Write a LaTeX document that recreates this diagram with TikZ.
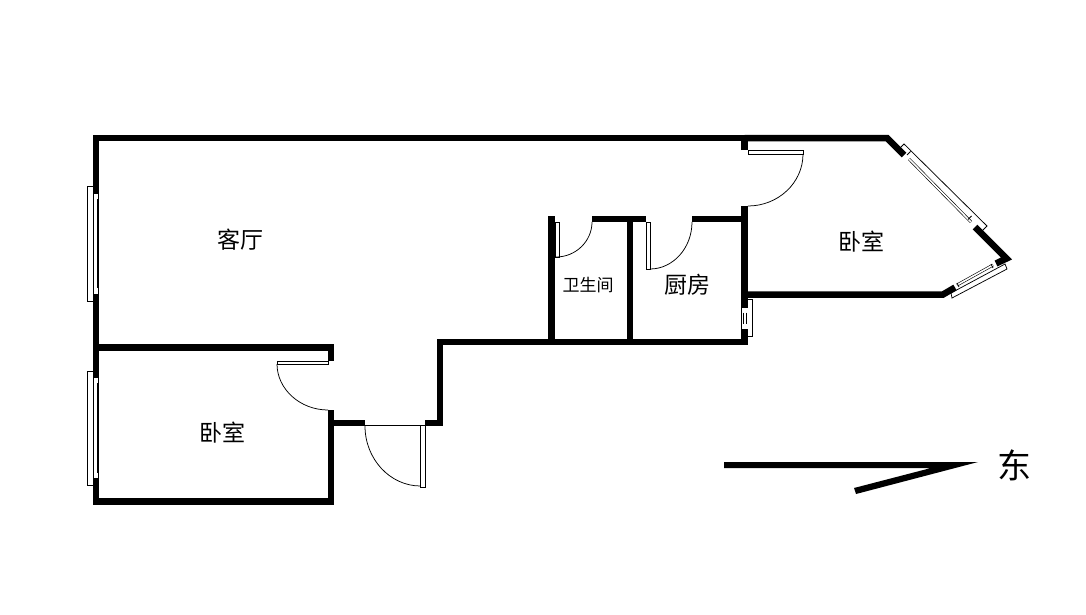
\documentclass[tikz,border=0pt]{standalone}
\usepackage{fontspec}
\newfontfamily\cjk{Noto Sans CJK SC}
\tikzset{
  wallline/.style={line width=6.5pt, miter limit=10},
  thinline/.style={line width=0.75pt},
  paneline/.style={line width=0.75pt, fill=white},
  glassline/.style={line width=0.6pt, double=white, double distance=1.6pt},
  roomlabel/.style={font=\cjk, text=black, inner sep=0pt}
}
\begin{document}
\begin{tikzpicture}[x=1pt, y=-1pt]
    \useasboundingbox (0,0) rectangle (1086,615);
    % walls
    \draw[wallline] (744.5,150) -- (744.5,138) -- (96,138) -- (96,501.5) -- (331,501.5) -- (331,410);
    \draw[wallline] (744.5,138) -- (887,138) -- (904,155);
    \draw[wallline] (96,347.5) -- (331,347.5) -- (331,361);
    \draw[wallline] (331,423) -- (365,423);
    \draw[wallline] (425,423) -- (440,423) -- (440,342) -- (744.5,342) -- (744.5,206);
    \draw[wallline] (744.5,294.5) -- (943,294.5) -- (955,287.5);
    \draw[wallline] (975,227) -- (1006.5,258.5) -- (996,263.5);
    \draw[wallline] (551.5,216) -- (551.5,342);
    \draw[wallline] (630,219) -- (630,342);
    \draw[wallline] (592,219) -- (646,219);
    \draw[wallline] (692,219) -- (744.5,219);
    % doors
    \draw[paneline] (748,150) rectangle (803,154);
    \draw[thinline] (803,154) .. controls (803,183) and (778,206) .. (748,206);
    \draw[paneline] (555,222) rectangle (559,257);
    \draw[thinline] (556,257) .. controls (576,257) and (592,241) .. (592,222);
    \draw[paneline] (646,222) rectangle (650,269);
    \draw[thinline] (650,269) .. controls (673,269) and (692,248) .. (692,222);
    \draw[paneline] (277,361) rectangle (328,364);
    \draw[thinline] (277,364) .. controls (277,389) and (300,410) .. (328,410);
    \draw[thinline] (365,425.5) -- (425,425.5);
    \draw[paneline] (420.5,425.5) rectangle (425.5,487);
    \draw[thinline] (365,426) .. controls (365,459) and (390,486) .. (420.5,486);
    % left windows
    \draw[thinline] (93,186) -- (87.5,186) -- (87.5,301) -- (93,301);
    \draw[thinline] (93,371) -- (87.5,371) -- (87.5,485) -- (93,485);
    \draw[white, line width=3pt] (95.5,199) -- (95.5,288);
    \draw[white, line width=3pt] (95.5,383) -- (95.5,473);
    \fill[white] (93.5,194) rectangle (98,199);
    \fill[white] (93.5,288) rectangle (98,293.5);
    \fill[white] (93.5,378) rectangle (98,383);
    \fill[white] (93.5,473) rectangle (98,478);
    % small window of the kitchen
    \draw[thinline] (748,299.5) -- (752.5,299.5) -- (752.5,336.5) -- (748,336.5);
    \fill[white] (742,307.5) rectangle (747.5,312.5);
    \fill[white] (742,323.5) rectangle (747.5,329);
    \fill[white] (742,312.5) rectangle (747.5,323.5);
    \draw[thinline] (743,312.5) -- (743,323.5) (746,312.5) -- (746,323.5);
    % bay windows
    \draw[thinline] (900,148) -- (904,144) -- (987,226) -- (982,231);
    \draw[glassline] (909,159) -- (971,222);
    \draw[thinline] (907,155) -- (910.5,151.5) (968,219.5) -- (971.5,216);
    \draw[thinline] (951,293) -- (1005,264) -- (1007,269) -- (952,298) -- cycle;
    \draw[glassline] (957,285) -- (993,265);
    \draw[thinline] (957,283) -- (959,287) (991,264) -- (993,268);
    % north arrow
    \fill (724,462) -- (978,462) -- (856,494) -- (854,488) -- (931,468) -- (724,468) -- cycle;
    \node (east) [roomlabel, font=\cjk\fontsize{34}{34}\selectfont] at (1014,465) {东};
    % rooms
    \node (living) [roomlabel, font=\cjk\fontsize{23}{23}\selectfont] at (240,240) {客厅};
    \node (bedone) [roomlabel, font=\cjk\fontsize{23}{23}\selectfont] at (861,242) {卧室};
    \node (bedtwo) [roomlabel, font=\cjk\fontsize{23}{23}\selectfont] at (222,433) {卧室};
    \node (bath) [roomlabel, font=\cjk\fontsize{17}{17}\selectfont] at (588,285.5) {卫生间};
    \node (kitchen) [roomlabel, font=\cjk\fontsize{23}{23}\selectfont] at (687,285) {厨房};
\end{tikzpicture}
\end{document}
